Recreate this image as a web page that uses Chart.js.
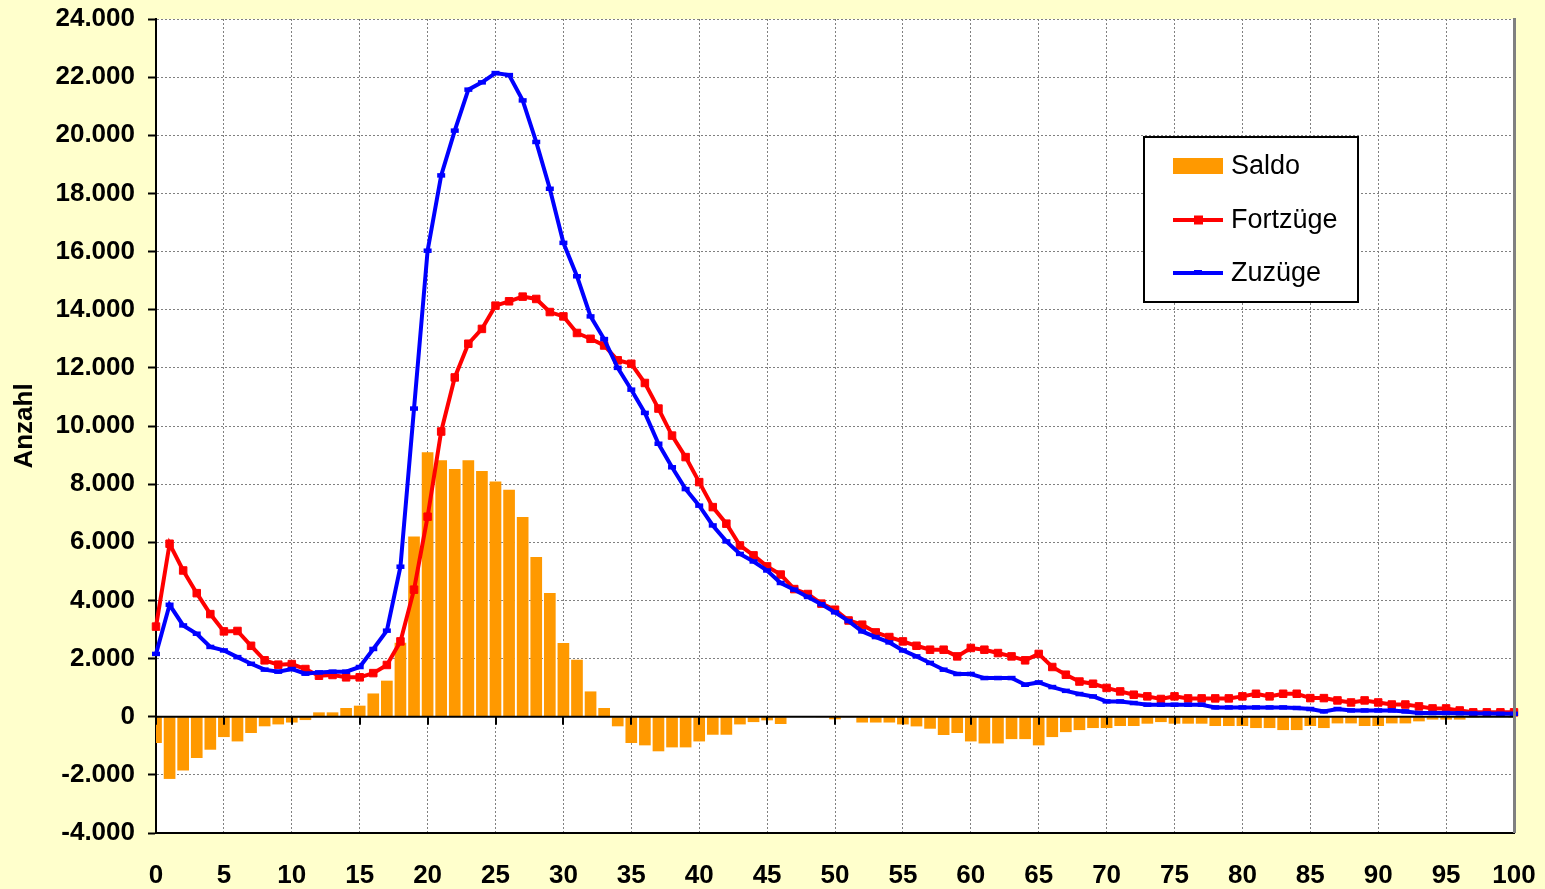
<!DOCTYPE html>
<html><head><meta charset="utf-8">
<script src="https://cdn.jsdelivr.net/npm/chart.js@4.4.1/dist/chart.umd.min.js"></script>
<style>html,body{margin:0;padding:0;background:#FFFFCC;overflow:hidden}</style>
</head><body>
<canvas id="c" width="1545" height="889"></canvas>
<script>
const ages = [0,1,2,3,4,5,6,7,8,9,10,11,12,13,14,15,16,17,18,19,20,21,22,23,24,25,26,27,28,29,30,31,32,33,34,35,36,37,38,39,40,41,42,43,44,45,46,47,48,49,50,51,52,53,54,55,56,57,58,59,60,61,62,63,64,65,66,67,68,69,70,71,72,73,74,75,76,77,78,79,80,81,82,83,84,85,86,87,88,89,90,91,92,93,94,95,96,97,98,99,100];

const saldo = [-905,-2140,-1850,-1420,-1135,-700,-850,-560,-330,-265,-200,-115,150,150,300,380,800,1240,2540,6200,
  9100,8820,8520,8820,8450,8095,7810,6870,5490,4255,2535,1960,870,300,-330,-905,-985,-1190,-1055,-1055,
  -850,-620,-620,-265,-185,-125,-250,-20,-20,-10,-90,-10,-200,-200,-200,-265,-333,-413,-630,-560,
  -850,-920,-920,-770,-770,-985,-700,-530,-460,-390,-390,-320,-320,-240,-185,-240,-240,-240,-320,-320,
  -320,-390,-390,-460,-460,-320,-390,-230,-230,-320,-320,-230,-230,-160,-100,-100,-100,-30,-20,-20,-30];

const fortzuege = [3100,5950,5030,4250,3530,2935,2950,2440,1940,1790,1810,1640,1410,1435,1355,1355,1500,1780,2590,4370,
  6880,9810,11670,12830,13340,14140,14290,14450,14370,13920,13770,13200,13000,12770,12260,12140,11480,10600,9670,8930,
  8070,7210,6640,5890,5550,5170,4890,4390,4220,3890,3680,3310,3165,2900,2740,2590,2440,2305,2305,2075,
  2365,2305,2190,2075,1940,2160,1710,1445,1210,1135,990,870,757,700,610,700,630,630,630,630,
  700,790,700,790,790,640,640,560,490,560,490,420,420,355,285,285,215,150,150,150,150];

const zuzuege = [2160,3850,3140,2855,2400,2280,2050,1820,1620,1550,1640,1480,1525,1550,1550,1710,2330,2960,5160,10600,
  16030,18620,20160,21570,21820,22140,22070,21200,19770,18160,16300,15150,13770,12990,12000,11250,10450,9390,8580,7830,
  7260,6580,6030,5600,5340,5030,4600,4370,4120,3870,3590,3290,2935,2740,2556,2280,2075,1850,1617,1470,
  1470,1330,1330,1330,1100,1180,1020,890,780,698,527,527,470,413,413,413,413,413,320,320,
  320,320,320,320,300,265,183,265,217,217,217,217,183,127,127,127,120,110,110,100,100];

const seriesNames = ['Saldo', 'Fortzüge', 'Zuzüge'];
const yMin = -4000, yMax = 24000, yStep = 2000;
const xMin = 0, xMax = 100, xStep = 5;

function fmt(v){
  const s = String(Math.abs(v)).replace(/\B(?=(\d{3})+(?!\d))/g, '.');
  return (v < 0 ? '-' : '') + s;
}
const pts = arr => ages.map((a,i)=>({x:a, y:arr[i]}));

const bgPlugin = {
  id:'bg',
  beforeDraw(chart){
    const {ctx, chartArea:a} = chart;
    ctx.save();
    ctx.fillStyle = '#FFFFCC';
    ctx.fillRect(0,0,chart.width,chart.height);
    ctx.fillStyle = '#FFFFFF';
    ctx.fillRect(a.left,a.top,a.right-a.left,a.bottom-a.top);
    ctx.restore();
  }
};

const overlayPlugin = {
  id:'overlay',
  afterDatasetsDraw(chart){
    const {ctx, chartArea:a, scales:{x,y}} = chart;
    const y0 = y.getPixelForValue(0);
    ctx.save();
    ctx.strokeStyle = '#000';
    ctx.lineWidth = 2;
    ctx.beginPath();
    ctx.moveTo(a.left, y0); ctx.lineTo(a.right, y0);
    ctx.stroke();
    x.ticks.forEach(t=>{
      const px = Math.round(x.getPixelForValue(t.value));
      ctx.beginPath();
      ctx.moveTo(px, y0); ctx.lineTo(px, y0+8);
      ctx.stroke();
    });
    ctx.strokeStyle = '#808080';
    ctx.lineWidth = 3;
    ctx.beginPath();
    ctx.moveTo(a.right+0.5, a.top-1); ctx.lineTo(a.right+0.5, a.bottom);
    ctx.stroke();
    ctx.restore();
  },
  afterDraw(chart){
    const ctx = chart.ctx;
    const ds = chart.data.datasets;
    const bx = 1144, by = 137, bw = 214, bh = 165;
    ctx.save();
    ctx.fillStyle = '#fff';
    ctx.fillRect(bx,by,bw,bh);
    ctx.strokeStyle = '#000';
    ctx.lineWidth = 2;
    ctx.strokeRect(bx,by,bw,bh);
    ctx.font = '27px "Liberation Sans", Arial, sans-serif';
    ctx.fillStyle = '#000';
    ctx.textBaseline = 'middle';
    const rows = [166, 220, 273];
    ctx.fillStyle = ds[0].backgroundColor;
    ctx.fillRect(1173, 158, 50, 16);
    [1,2].forEach(k=>{
      const yy = rows[k];
      ctx.strokeStyle = ds[k].borderColor;
      ctx.lineWidth = 4;
      ctx.beginPath(); ctx.moveTo(1173, yy); ctx.lineTo(1223, yy); ctx.stroke();
      ctx.fillStyle = ds[k].borderColor;
      if (k===1) ctx.fillRect(1194, yy-4.5, 9, 9);
      else ctx.fillRect(1194, yy-3, 8, 5);
    });
    ctx.fillStyle = '#000';
    ds.forEach((d,i)=>{ ctx.fillText(d.label, 1231, rows[i]+1); });
    ctx.restore();
  }
};

const boldFont = {family:'"Liberation Sans", Arial, sans-serif', weight:'bold', size:26};

new Chart(document.getElementById('c'), {
  data:{
    datasets:[
      {type:'bar', label:seriesNames[0], data:pts(saldo), backgroundColor:'#FF9900', borderWidth:0,
       barPercentage:0.86, categoryPercentage:1, order:2, clip:0},
      {type:'line', label:seriesNames[1], data:pts(fortzuege), borderColor:'#FF0000', backgroundColor:'#FF0000',
       borderWidth:4, pointStyle:'rect', pointRadius:5.3, pointBorderWidth:1, pointHoverRadius:5.3,
       tension:0, order:1, clip:false},
      {type:'line', label:seriesNames[2], data:pts(zuzuege), borderColor:'#0000FF', backgroundColor:'#0000FF',
       borderWidth:4, pointStyle:'line', pointRadius:4, pointBorderWidth:4.5, pointHoverRadius:4,
       tension:0, order:0, clip:false}
    ]
  },
  options:{
    responsive:false, animation:false, devicePixelRatio:1,
    layout:{padding:{top:19, right:31, left:0, bottom:0}},
    plugins:{legend:{display:false}, tooltip:{enabled:false}},
    scales:{
      x:{type:'linear', min:xMin, max:xMax, offset:false,
         ticks:{stepSize:xStep, font:boldFont, color:'#000', padding:27, maxRotation:0, autoSkip:false},
         grid:{color:'#808080', lineWidth:1, drawTicks:false, offset:false},
         border:{display:true, color:'#000', width:2, dash:[2,2]},
         afterFit(s){ s.height = 56; s.paddingLeft = 0; s.paddingRight = 0; }
      },
      y:{type:'linear', min:yMin, max:yMax,
         ticks:{stepSize:yStep, font:boldFont, color:'#000', padding:13, callback:v=>fmt(v)},
         grid:{color:'#808080', lineWidth:1, drawTicks:true, tickLength:8, tickColor:'#000', tickWidth:2},
         border:{display:true, color:'#000', width:2, dash:[2,2]},
         title:{display:true, text:'Anzahl', font:boldFont, color:'#000', padding:{top:9, bottom:0}},
         afterFit(s){ s.width = 156; s.paddingTop = 0; s.paddingBottom = 0; }
      }
    }
  },
  plugins:[bgPlugin, overlayPlugin]
});
</script>
</body></html>
